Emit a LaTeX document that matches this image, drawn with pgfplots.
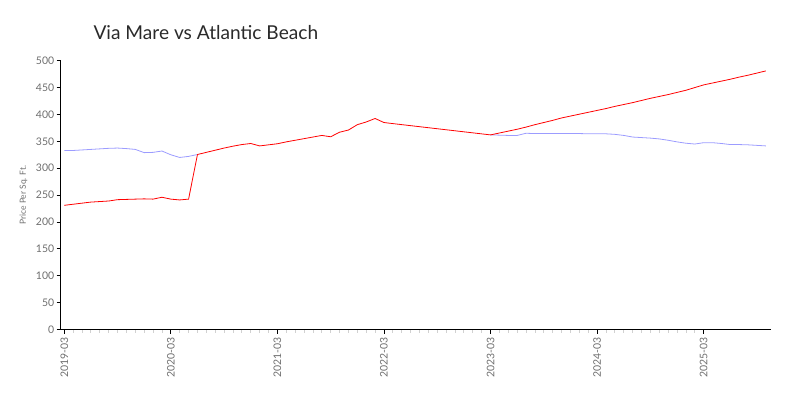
\documentclass[border=0pt]{standalone}
\usepackage{pgfplots}
\pgfplotsset{compat=1.18}
\usepackage{fontspec}
\setmainfont{Lato}
\definecolor{tickgray}{HTML}{6E6E6E}
\definecolor{lineblue}{HTML}{9C9CFF}
\definecolor{titlegray}{HTML}{2A2A2A}

% month index: 0 = 2019-03
\pgfplotstableread{
m v
0 333
1 333
2 334
3 335
4 336
5 337
6 337.5
7 336.5
8 335
9 329
10 329.5
11 332
12 325
13 320
14 322
15 325.5
}\atlantic
\pgfplotstableread{
m v
48 362
49 361.5
50 361
51 361
52 365
53 364.5
54 364.5
55 364.5
56 364.5
57 364.5
58 364.5
59 364
60 364
61 364
62 363
63 361
64 358
65 357
66 356
67 354.5
68 352
69 349
70 346.5
71 345
72 347.5
73 347.5
74 346
75 344
76 344
77 343.5
78 342.5
79 341.5
}\atlanticlate
\pgfplotstableread{
m v
0 231
1 233
2 235
3 237
4 238
5 239
6 241.5
7 242
8 242.5
9 243
10 242.5
11 246
12 242.5
13 241
14 242.5
15 325.5
16 329.5
17 333.5
18 337.5
19 341
20 344
21 346
22 341.5
23 343.5
24 345.5
25 349
26 352
27 355
28 358
29 361
30 358.5
31 367
32 371
33 381
34 386
35 392.5
36 385
37 383
48 362
49 365.5
50 369
51 372.5
52 376.5
53 381
54 385
55 389
56 393.5
57 397
58 400.5
59 404
60 407.5
61 411
62 415
63 418.5
64 422
65 426
66 430
67 433.5
68 437
69 441
70 445
71 450
72 455
73 458.5
74 462
75 465.5
76 469.5
77 473
78 477
79 481
}\viamare

\begin{document}
\begin{tikzpicture}
\useasboundingbox (0,0) rectangle (800bp,400bp);
\node[anchor=base west, text=titlegray, font=\fontsize{19.2}{23}\selectfont] at (90bp,360bp) {Via Mare vs Atlantic Beach};
\begin{axis}[
  at={(60.7bp,70.5bp)}, anchor=south west,
  scale only axis, width=710bp, height=268.8bp,
  xmin=-0.4, xmax=79.55, ymin=0, ymax=500,
  axis lines=left,
  axis line style={-, black, line width=0.9pt},
  xtick={0,12,24,36,48,60,72},
  xticklabels={2019-03,2020-03,2021-03,2022-03,2023-03,2024-03,2025-03},
  minor x tick num=11,
  ytick={0,50,...,500},
  tick align=outside,
  major tick length=4bp, minor tick length=3bp,
  major tick style={black, line width=0.8pt},
  minor tick style={black!18, line width=0.8pt},
  tick label style={text=tickgray, font=\fontsize{10.5}{12}\selectfont},
  y tick label style={xshift=1bp},
  x tick label style={rotate=90, anchor=east},
  /pgf/number format/assume math mode=true,
  ylabel={Price Per Sq. Ft.},
  ylabel style={at={(axis description cs:-0.042,0.5)}, anchor=south,
    text=tickgray, font=\fontsize{8.5}{10}\selectfont},
]
\addplot[lineblue, line width=0.8pt, no markers] table[x=m, y=v] {\atlantic};
\addplot[lineblue, line width=0.8pt, no markers] table[x=m, y=v] {\atlanticlate};
\addplot[red, line width=0.8pt, no markers] table[x=m, y=v] {\viamare};
\end{axis}
\end{tikzpicture}
\end{document}
